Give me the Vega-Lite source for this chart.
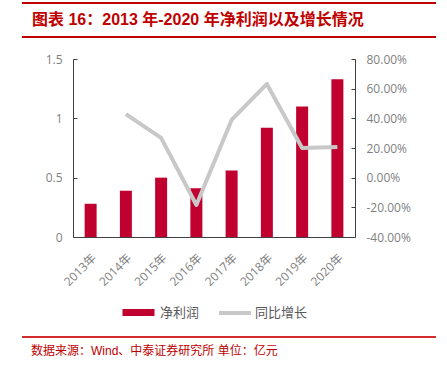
{
  "$schema": "https://vega.github.io/schema/vega-lite/v6.json",
  "padding": {"top": 2, "left": 21, "right": 0, "bottom": 0},
  "background": "white",
  "spacing": 15,
  "config": {
    "view": {"stroke": null},
    "legend": {"layout": {"bottom": {"anchor": "middle", "direction": "horizontal", "margin": 17}}},
    "locale": {"number": {"decimal": ".", "thousands": ",", "grouping": [3], "currency": ["", ""], "minus": "-"}}
  },
  "vconcat": [
    {
      "width": 282,
      "height": 34,
      "data": {"values": [{"label": "图表 16：2013 年-2020 年净利润以及增长情况", "top": 1, "bottom": 0}]},
      "encoding": {
        "x": {"datum": 0, "type": "quantitative", "scale": {"domain": [0, 1], "range": [-51, 363], "nice": false}, "axis": null}
      },
      "layer": [
        {
          "mark": {"type": "rule", "color": "#C00000", "strokeWidth": 2},
          "encoding": {
            "x2": {"datum": 1},
            "y": {"field": "top", "type": "quantitative", "scale": {"domain": [0, 1], "nice": false}, "axis": null}
          }
        },
        {
          "mark": {"type": "rule", "color": "#C00000", "strokeWidth": 2},
          "encoding": {
            "x2": {"datum": 1},
            "y": {"field": "bottom", "type": "quantitative", "axis": null}
          }
        },
        {
          "mark": {"type": "text", "align": "left", "baseline": "middle", "dx": 10, "font": "Liberation Sans, Noto Sans CJK SC", "fontSize": 16, "fontWeight": "bold", "color": "#C00000"},
          "encoding": {
            "text": {"field": "label"},
            "y": {"datum": 0.5, "type": "quantitative", "axis": null}
          }
        }
      ]
    },
    {
      "width": 282,
      "height": 178,
      "data": {"values": [
        {"year": "2013年", "profit": 0.28, "growth": null},
        {"year": "2014年", "profit": 0.39, "growth": 0.429},
        {"year": "2015年", "profit": 0.50, "growth": 0.268},
        {"year": "2016年", "profit": 0.41, "growth": -0.184},
        {"year": "2017年", "profit": 0.56, "growth": 0.389},
        {"year": "2018年", "profit": 0.92, "growth": 0.632},
        {"year": "2019年", "profit": 1.10, "growth": 0.200},
        {"year": "2020年", "profit": 1.33, "growth": 0.207}
      ]},
      "encoding": {
        "x": {
          "field": "year", "type": "nominal", "sort": null,
          "scale": {"paddingInner": 0.66, "paddingOuter": 0.33},
          "axis": {"title": null, "labelAngle": -45, "ticks": false, "domainColor": "#404040", "labelColor": "#7f7f7f", "labelFont": "Open Sans, Noto Sans CJK SC", "labelFontSize": 12, "labelPadding": 15}
        }
      },
      "layer": [
        {
          "mark": {"type": "bar", "color": "#C0002F"},
          "encoding": {
            "y": {
              "field": "profit", "type": "quantitative",
              "scale": {"domain": [0, 1.5], "nice": false},
              "axis": {"title": null, "values": [0, 0.5, 1, 1.5], "format": ".1~f", "grid": false, "tickSize": -4, "tickColor": "#404040", "domainColor": "#404040", "labelColor": "#7f7f7f", "labelFont": "Open Sans", "labelFontSize": 12, "labelPadding": 15}
            },
            "color": {
              "datum": "净利润", "type": "nominal",
              "scale": {"range": ["#C0002F"]},
              "legend": {"orient": "bottom", "title": null, "symbolType": "M-1,-0.7L5.4,-0.7L5.4,0.7L-1,0.7Z", "symbolSize": 100, "symbolStrokeWidth": 0, "labelOffset": 26, "labelFontSize": 13, "labelFont": "Noto Sans CJK SC", "labelColor": "#595959"}
            }
          }
        },
        {
          "mark": {"type": "line", "strokeWidth": 4, "strokeJoin": "round"},
          "encoding": {
            "y": {
              "field": "growth", "type": "quantitative",
              "scale": {"domain": [-0.4, 0.8], "nice": false},
              "axis": {"title": null, "orient": "right", "values": [-0.4, -0.2, 0, 0.2, 0.4, 0.6, 0.8], "format": ".2%", "grid": false, "tickSize": -4, "tickColor": "#404040", "domainColor": "#404040", "labelColor": "#7f7f7f", "labelFont": "Open Sans", "labelFontSize": 12, "labelPadding": 15}
            },
            "color": {
              "datum": "同比增长", "type": "nominal",
              "scale": {"range": ["#C8C8C8"]},
              "legend": {"orient": "bottom", "title": null, "symbolType": "M-1,0L5.4,0", "symbolSize": 100, "symbolStrokeWidth": 4, "labelOffset": 24, "labelFontSize": 13, "labelFont": "Noto Sans CJK SC", "labelColor": "#595959"}
            }
          }
        }
      ],
      "resolve": {"scale": {"y": "independent", "color": "independent"}}
    },
    {
      "width": 282,
      "height": 14,
      "data": {"values": [{"label": "数据来源：Wind、中泰证券研究所 单位：亿元", "top": 1}]},
      "encoding": {
        "x": {"datum": 0, "type": "quantitative", "scale": {"domain": [0, 1], "range": [-51, 363], "nice": false}, "axis": null}
      },
      "layer": [
        {
          "mark": {"type": "rule", "color": "#D02A2A", "strokeWidth": 2},
          "encoding": {
            "x2": {"datum": 1},
            "y": {"field": "top", "type": "quantitative", "scale": {"domain": [0, 1], "nice": false}, "axis": null}
          }
        },
        {
          "mark": {"type": "text", "align": "left", "baseline": "middle", "dx": 9, "font": "Liberation Sans, Noto Sans CJK SC", "fontSize": 12, "color": "#C00000"},
          "encoding": {
            "text": {"field": "label"},
            "y": {"datum": 0, "type": "quantitative", "axis": null}
          }
        }
      ]
    }
  ]
}
